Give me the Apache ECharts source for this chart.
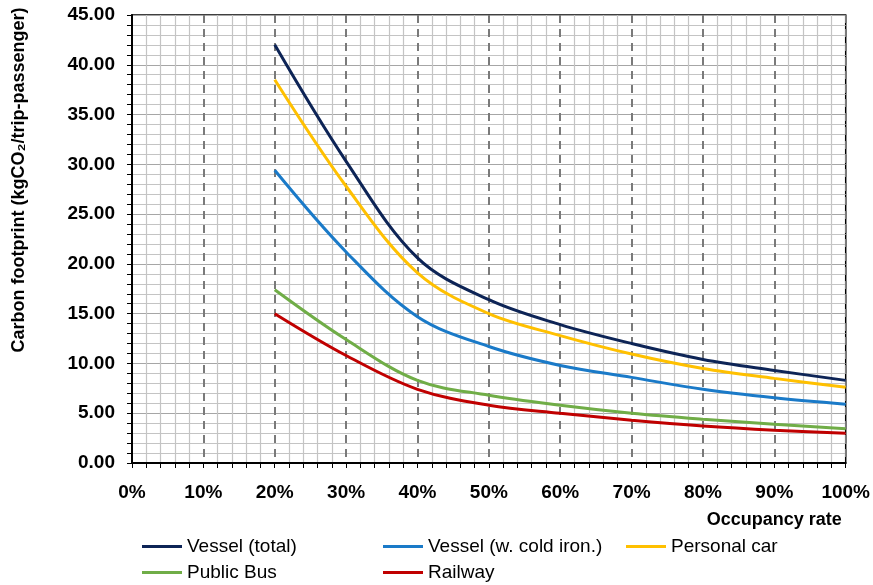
<!DOCTYPE html>
<html><head><meta charset="utf-8">
<script src="https://cdn.jsdelivr.net/npm/echarts@6/dist/echarts.min.js"></script>
<style>html,body{margin:0;padding:0;background:#fff}#c{width:873px;height:585px}</style>
</head><body><div id="c"></div>
<script>
var occupancy = [0.2, 0.3, 0.4, 0.5, 0.6, 0.7, 0.8, 0.9, 1.0];
var vesselTotal = [42.0, 30.3, 20.6, 16.4, 13.9, 12.0, 10.4, 9.3, 8.3];
var vesselCold  = [29.4, 21.2, 14.7, 11.7, 9.8, 8.6, 7.4, 6.55, 5.9];
var personalCar = [38.5, 27.8, 19.1, 15.0, 12.8, 10.95, 9.5, 8.5, 7.6];
var publicBus   = [17.4, 12.4, 8.3, 6.8, 5.8, 5.0, 4.4, 3.9, 3.45];
var railway     = [15.0, 10.8, 7.4, 5.8, 5.0, 4.3, 3.72, 3.3, 3.0];
var seriesNames = ['Vessel (total)', 'Vessel (w. cold iron.)', 'Personal car', 'Public Bus', 'Railway'];
var seriesColors = ['#0d2456', '#1a7ac8', '#ffc000', '#70ad47', '#c00000'];
var seriesData = [vesselTotal, vesselCold, personalCar, publicBus, railway];

var FONT = 'Liberation Sans';
function pairs(ys){ return occupancy.map(function(x,i){ return [x, ys[i]]; }); }

var legendPos = [[142,537],[383,537],[626,537],[142,563],[383,563]];
var legends = seriesNames.map(function(n,i){
  return {
    data:[n], left:legendPos[i][0], top:legendPos[i][1], padding:0,
    icon:'rect', itemWidth:40, itemHeight:3, itemGap:0,
    textStyle:{fontFamily:FONT, fontSize:19, color:'#000'},
    selectedMode:false
  };
});

var chart = echarts.init(document.getElementById('c'), null, {renderer:'canvas'});
chart.setOption({
  animation:false,
  backgroundColor:'#fff',
  legend: legends,
  grid:{left:132, right:26, top:15, bottom:122, show:true, borderColor:'#000', borderWidth:1.5, backgroundColor:'transparent'},
  xAxis:{
    type:'value', min:0, max:1, interval:0.1,
    name:'Occupancy rate', nameLocation:'end',
    nameTextStyle:{fontFamily:FONT, fontWeight:'bold', fontSize:18, color:'#000', align:'right', verticalAlign:'top', padding:[48,0,0,0]},
    nameGap:-4,
    axisLine:{show:true, onZero:false, lineStyle:{color:'#000', width:2}},
    axisTick:{show:true, length:5, lineStyle:{color:'#000', width:1}},
    minorTick:{show:true, splitNumber:5, length:5, lineStyle:{color:'#000', width:1}},
    axisLabel:{fontFamily:FONT, fontWeight:'bold', fontSize:19, color:'#000', margin:20,
      formatter:function(v){ return Math.round(v*100)+'%'; }},
    splitLine:{show:true, lineStyle:{color:'#7a7a7a', width:2, type:[8,6]}},
    minorSplitLine:{show:true, lineStyle:{color:'#c4c4c4', width:1.2}}
  },
  yAxis:{
    type:'value', min:0, max:45, interval:5,
    name:'Carbon footprint (kgCO\u2082/trip-passenger)', nameLocation:'middle', nameGap:104, nameRotate:90,
    nameTextStyle:{fontFamily:FONT, fontWeight:'bold', fontSize:18, color:'#000', padding:[0,0,0,118]},
    axisLine:{show:true, lineStyle:{color:'#000', width:2}},
    axisTick:{show:true, length:5, lineStyle:{color:'#000', width:1}},
    minorTick:{show:true, splitNumber:5, length:5, lineStyle:{color:'#000', width:1}},
    axisLabel:{fontFamily:FONT, fontWeight:'bold', fontSize:19, color:'#000', margin:17,
      formatter:function(v){ return v.toFixed(2); }},
    splitLine:{show:true, lineStyle:{color:'#a6a6a6', width:1.2}},
    minorSplitLine:{show:true, lineStyle:{color:'#c4c4c4', width:1.2}}
  },
  series: seriesNames.map(function(n,i){
    return {
      name:n, type:'line', data:pairs(seriesData[i]), smooth:0.35,
      symbol:'none', color:seriesColors[i],
      lineStyle:{color:seriesColors[i], width:3}, z:3
    };
  })
});
</script></body></html>
